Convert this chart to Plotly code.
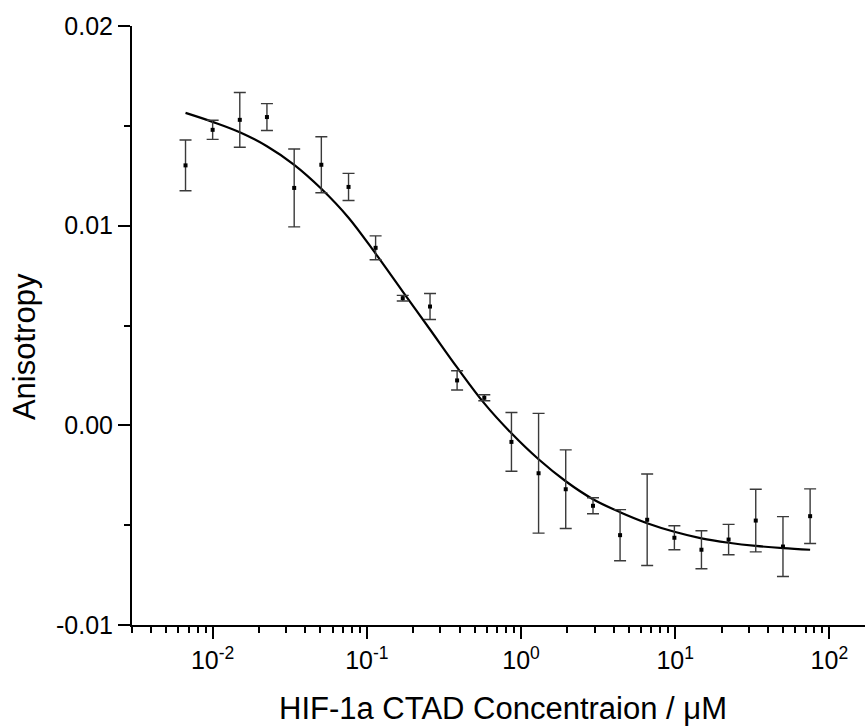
import plotly.graph_objects as go

# Data
conc = [0.00667, 0.01, 0.015, 0.0225, 0.0338, 0.0507, 0.0761, 0.114, 0.171, 0.257,
        0.385, 0.578, 0.867, 1.30, 1.95, 2.93, 4.39, 6.58, 9.88, 14.8, 22.2, 33.3, 50, 75]
aniso = [0.01302, 0.0148, 0.0153, 0.01544, 0.01189, 0.01305, 0.01194, 0.00889, 0.00637, 0.00595,
         0.00225, 0.00138, -0.00083, -0.0024, -0.0032, -0.00403, -0.0055, -0.00473, -0.00563,
         -0.00623, -0.00572, -0.00477, -0.00607, -0.00455]
aniso_err = [0.00127, 0.00048, 0.00137, 0.00067, 0.00195, 0.0014, 0.00068, 0.0006, 0.00014, 0.00065,
             0.00048, 0.00015, 0.00147, 0.0030, 0.00197, 0.0004, 0.00128, 0.00229, 0.0006,
             0.00095, 0.00076, 0.00157, 0.0015, 0.00137]

# Fitted curve at the same concentrations
fit_y = [0.01565, 0.0152, 0.01468, 0.01398, 0.01305, 0.01185, 0.0104, 0.0086, 0.0067, 0.0048,
         0.0029, 0.0011, -0.0004, -0.0017, -0.0028, -0.0037, -0.00435, -0.0049, -0.00533,
         -0.00566, -0.00588, -0.00604, -0.00615, -0.00623]

x_tick_vals = [0.01, 0.1, 1, 10, 100]
x_tick_text = ["10<sup>-2</sup>", "10<sup>-1</sup>", "10<sup>0</sup>", "10<sup>1</sup>", "10<sup>2</sup>"]
y_tick_vals = [-0.01, 0.0, 0.01, 0.02]
y_tick_text = ["-0.01", "0.00", "0.01", "0.02"]
y_minor_vals = [-0.005, 0.005, 0.015]

x_title = "HIF-1a CTAD Concentraion / μM"
y_title = "Anisotropy"

FONT = "Liberation Sans, Arial, sans-serif"

x_minor_vals = [m * 10 ** e for e in range(-3, 3) for m in range(2, 10)]

fig = go.Figure()
fig.add_trace(go.Scatter(
    x=conc, y=fit_y, mode="lines", line=dict(color="black", width=2.2, shape="spline", smoothing=1.0),
    hoverinfo="skip", showlegend=False))
fig.add_trace(go.Scatter(
    x=conc, y=aniso, mode="markers",
    marker=dict(symbol="square", size=4, color="black"),
    error_y=dict(type="data", array=aniso_err, visible=True, color="#3a3a3a", thickness=1.4, width=6),
    showlegend=False))

fig.update_layout(
    width=865, height=726,
    margin=dict(l=132, r=0, t=26, b=101),
    paper_bgcolor="white", plot_bgcolor="white",
    font=dict(family=FONT, color="black", size=25),
    xaxis=dict(
        type="log", range=[-2.523, 2.231],
        tickvals=x_tick_vals, ticktext=x_tick_text,
        ticks="outside", ticklen=12, tickwidth=2, tickcolor="black",
        showline=True, linecolor="black", linewidth=2,
        showgrid=False, zeroline=False,
        tickfont=dict(size=25, family=FONT),
        minor=dict(tickvals=x_minor_vals, ticks="outside", ticklen=6, tickwidth=2,
                   tickcolor="black", showgrid=False),
    ),
    yaxis=dict(
        range=[-0.01, 0.02],
        tickvals=y_tick_vals, ticktext=y_tick_text,
        ticks="outside", ticklen=12, tickwidth=2, tickcolor="black",
        showline=True, linecolor="black", linewidth=2,
        showgrid=False, zeroline=False,
        tickfont=dict(size=25, family=FONT),
        minor=dict(tickvals=y_minor_vals, ticks="outside", ticklen=6, tickwidth=2,
                   tickcolor="black", showgrid=False),
    ),
    annotations=[
        dict(text=x_title, xref="paper", yref="paper", x=0.506, y=0,
             xanchor="center", yanchor="middle", yshift=-83, showarrow=False,
             font=dict(size=31, family=FONT)),
        dict(text=y_title, xref="paper", yref="paper", x=0, y=0.464,
             xanchor="center", yanchor="middle", xshift=-108, textangle=-90, showarrow=False,
             font=dict(size=31, family=FONT)),
    ],
)

fig.write_html("out.html")
